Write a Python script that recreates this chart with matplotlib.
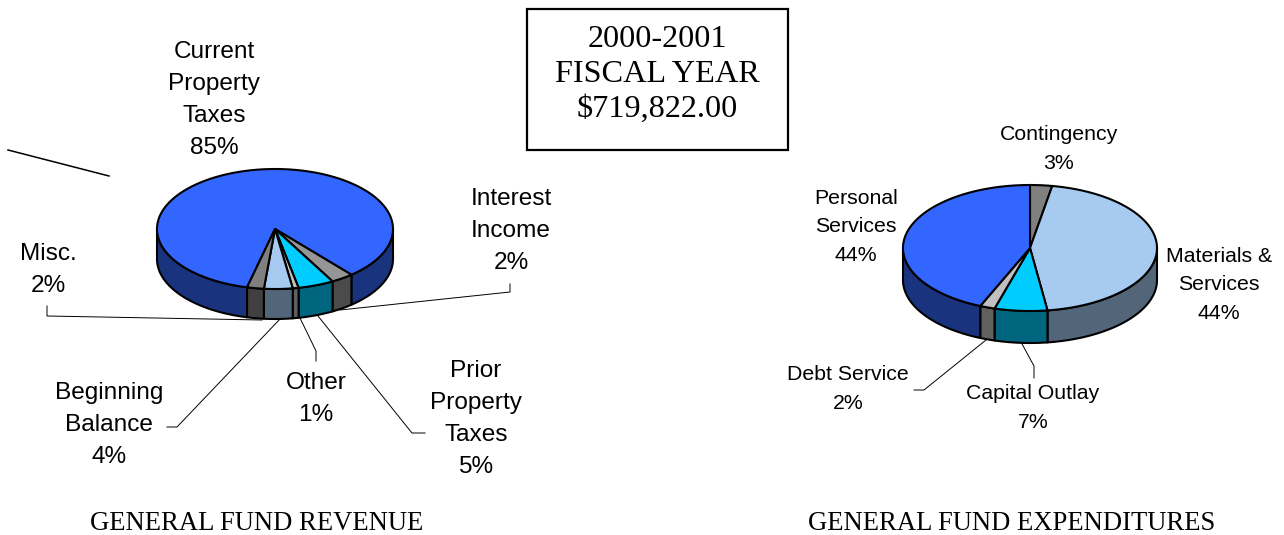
import numpy as np
import matplotlib
matplotlib.use("Agg")
import matplotlib.pyplot as plt
from matplotlib.patches import Polygon, Rectangle

W, H = 1284, 535

rev_labels = ["Current\nProperty\nTaxes\n85%", "Interest\nIncome\n2%", "Prior\nProperty\nTaxes\n5%", "Other\n1%",
              "Beginning\nBalance\n4%", "Misc.\n2%"]
rev_shares = [84.9, 3.1, 4.9, 0.8, 3.9, 2.3]
exp_labels = ["Contingency\n3%", "Materials &\nServices\n44%", "Capital Outlay\n7%",
              "Debt Service\n2%", "Personal\nServices\n44%"]
exp_shares = [2.8, 45.0, 6.7, 1.9, 43.6]

rev_top = ["#3366FF", "#969696", "#00CCFF", "#C0C0C0", "#A6CAF0", "#808080"]
rev_side = ["#1A337F", "#4B4B4B", "#006680", "#606060", "#536578", "#404040"]
exp_top = ["#808080", "#A6CAF0", "#00CCFF", "#C0C0C0", "#3366FF"]
exp_side = ["#404040", "#536578", "#006680", "#606060", "#1A337F"]

fig = plt.figure(figsize=(W / 100, H / 100), dpi=100)
ax = fig.add_axes([0, 0, 1, 1])
ax.set_xlim(0, W)
ax.set_ylim(H, 0)
ax.axis("off")

LW = 1.5


def pie3d(cx, cy, rx, ry, depth, shares, tops, sides, start):
    shares = np.asarray(shares, float)
    edges = start + np.concatenate([[0], np.cumsum(shares)]) / shares.sum() * 360

    # angle measured clockwise from 12 o'clock
    def pt(a):
        r = np.radians(a)
        return cx + rx * np.sin(r), cy - ry * np.cos(r)

    # walls (front half only: 90..270 degrees)
    for i in range(len(shares)):
        for off in (-360, 0, 360):
            a0 = max(edges[i] + off, 90)
            a1 = min(edges[i + 1] + off, 270)
            if a1 > a0:
                t = np.linspace(a0, a1, 80)
                x, y = pt(t)
                poly = np.column_stack([np.r_[x, x[::-1]], np.r_[y, y[::-1] + depth]])
                ax.add_patch(Polygon(poly, closed=True, fc=sides[i], ec="black", lw=LW, zorder=2, joinstyle="round"))
    # top face
    for i in range(len(shares)):
        t = np.linspace(edges[i], edges[i + 1], 200)
        x, y = pt(t)
        poly = np.column_stack([np.r_[cx, x], np.r_[cy, y]])
        ax.add_patch(Polygon(poly, closed=True, fc=tops[i], ec="black", lw=LW, zorder=3, joinstyle="round"))


# leader lines sit behind the pies
leaders = [
    [(47, 306), (47, 316), (262, 320)],
    [(510, 284), (510, 292), (340, 310)],
    [(316, 361), (316, 351), (300, 318)],
    [(167, 427), (177, 427), (281, 318)],
    [(425, 433), (412, 433), (318, 316)],
    [(914, 390), (924, 390), (986, 340)],
    [(1034, 378), (1034, 366), (1021, 342)],
]
for seg in leaders:
    xs, ys = zip(*seg)
    ax.plot(xs, ys, color="black", lw=0.7, zorder=1)
ax.plot([8, 109], [150, 176], color="black", lw=1.1, zorder=1)

pie3d(275, 229, 118, 60, 30, rev_shares, rev_top, rev_side, 193.7)
pie3d(1030, 248, 127, 63, 32, exp_shares, exp_top, exp_side, 0)

sans = "Liberation Sans"
serif = "Liberation Serif"
rev_pos = [(214, 100), (511, 231), (476, 419), (316, 399), (109, 425), (48, 270)]
exp_pos = [(1059, 149), (1219, 285), (1033, 408), (848, 389), (856, 227)]
for lab, (x, y) in zip(rev_labels, rev_pos):
    ax.text(x, y, lab, ha="center", va="center", family=sans, fontsize=17.6, linespacing=1.57, color="black", zorder=5)
for lab, (x, y) in zip(exp_labels, exp_pos):
    ax.text(x, y, lab, ha="center", va="center", family=sans, fontsize=15.3, linespacing=1.62,
            color="black", zorder=5)

ax.add_patch(Rectangle((526.5, 8.5), 261, 141, fc="white", ec="black", lw=1.6, zorder=4))
ax.text(657, 74, "2000-2001\nFISCAL YEAR\n$719,822.00", ha="center", va="center", family=serif, fontsize=23.2,
        linespacing=1.27, color="black", zorder=5)

ax.text(256.5, 524, "GENERAL FUND REVENUE", ha="center", va="center", family=serif, fontsize=19.2, color="black")
ax.text(1012, 524, "GENERAL FUND EXPENDITURES", ha="center", va="center", family=serif, fontsize=19.2, color="black")

fig.savefig("out.png", dpi=100, facecolor="white")
